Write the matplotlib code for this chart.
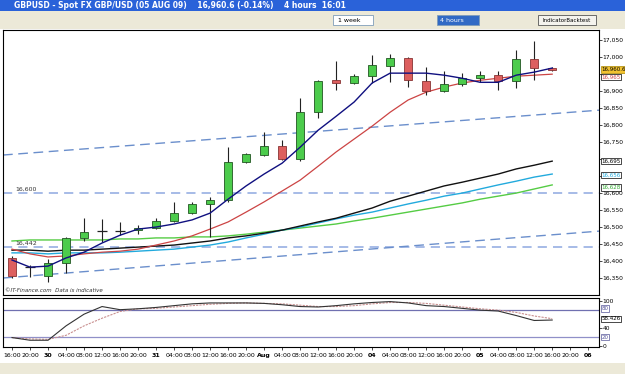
import matplotlib
matplotlib.use('Agg')
import matplotlib.pyplot as plt
from matplotlib.patches import Rectangle

# 4-hour candles, GBP/USD, 29 Jul 16:00 -> 05 Aug 16:00
opens = [16409, 16382, 16356, 16394, 16468, 16486, 16488, 16491, 16497, 16518, 16541,
         16568, 16579, 16691, 16712, 16738, 16700, 16838, 16932, 16924, 16944, 16974,
         16997, 16929, 16900, 16921, 16938, 16947, 16929, 16994, 16968]
highs = [16415, 16388, 16406, 16471, 16526, 16524, 16515, 16506, 16526, 16574, 16574,
         16588, 16735, 16718, 16779, 16756, 16879, 16932, 16988, 16950, 17006, 17009,
         17000, 16971, 16959, 16953, 16959, 16959, 17021, 17047, 16970]
lows = [16350, 16353, 16338, 16365, 16459, 16456, 16476, 16479, 16494, 16515, 16538,
        16471, 16575, 16688, 16709, 16697, 16694, 16821, 16903, 16921, 16924, 16926,
        16912, 16888, 16897, 16915, 16926, 16903, 16909, 16932, 16958]
closes = [16356, 16383, 16394, 16468, 16485, 16488, 16489, 16497, 16518, 16541, 16568,
          16579, 16691, 16715, 16738, 16700, 16838, 16929, 16924, 16944, 16976, 16997,
          16932, 16900, 16921, 16938, 16947, 16929, 16994, 16968, 16961]

ma_navy = [16403, 16382, 16385, 16409, 16426, 16453, 16476, 16494, 16500, 16509, 16521,
           16541, 16582, 16621, 16656, 16688, 16735, 16785, 16826, 16868, 16924, 16953,
           16953, 16953, 16947, 16938, 16926, 16926, 16947, 16956, 16968]
ma_red = [16435, 16421, 16412, 16415, 16421, 16426, 16429, 16435, 16447, 16459, 16474,
          16494, 16515, 16544, 16574, 16606, 16638, 16679, 16721, 16759, 16797, 16838,
          16874, 16897, 16912, 16924, 16932, 16938, 16944, 16947, 16950]
ma_black = [16432, 16432, 16429, 16432, 16432, 16435, 16438, 16441, 16444, 16447, 16453,
            16459, 16468, 16474, 16482, 16491, 16503, 16515, 16526, 16541, 16556, 16576,
            16591, 16606, 16621, 16632, 16644, 16656, 16671, 16682, 16694]
ma_cyan = [16424, 16424, 16421, 16424, 16424, 16424, 16426, 16429, 16432, 16435, 16441,
           16447, 16456, 16468, 16479, 16491, 16500, 16512, 16524, 16535, 16544, 16556,
           16568, 16579, 16591, 16600, 16612, 16624, 16635, 16647, 16656]
ma_green = [16459, 16462, 16462, 16462, 16462, 16462, 16465, 16465, 16468, 16468, 16471,
            16471, 16474, 16479, 16485, 16491, 16497, 16503, 16509, 16518, 16526, 16535,
            16544, 16553, 16562, 16571, 16582, 16591, 16600, 16612, 16624]

stoch_k = [19, 13, 13, 45, 71, 88, 81, 83, 86, 90, 94, 96, 96, 96, 95, 92, 88, 87, 90,
           94, 97, 99, 96, 90, 88, 84, 80, 78, 68, 57, 58]
stoch_d = [19, 16, 15, 24, 45, 62, 77, 83, 84, 87, 90, 93, 95, 96, 95, 94, 91, 88, 88,
           90, 94, 97, 97, 95, 91, 87, 83, 80, 75, 67, 61]

# channel lines (price at left and right edge of the chart)
upper_channel = [16712, 16844]
lower_channel = [16350, 16488]
h_levels = [16600, 16442]

x_labels = ['16:00', '20:00', '30', '04:00', '08:00', '12:00', '16:00', '20:00', '31',
            '04:00', '08:00', '12:00', '16:00', '20:00', 'Aug', '04:00', '08:00', '12:00',
            '16:00', '20:00', '04', '04:00', '08:00', '12:00', '16:00', '20:00', '05',
            '04:00', '08:00', '12:00', '16:00', '20:00', '06']
day_labels = ['30', '31', 'Aug', '04', '05', '06']
# price labels hidden behind the value boxes on the right
hidden_ticks = [16950, 16700, 16650]

NARROW = ['Liberation Sans Narrow', 'DejaVu Sans']

W, H = 625, 374
fig = plt.figure(figsize=(6.25, 3.74), dpi=100)
fig.patch.set_facecolor('white')

def fy(py):
    return 1 - py / H

# window chrome
fig.patches.append(Rectangle((0, fy(11)), 1, 11 / H, transform=fig.transFigure,
                             facecolor='#2a62d9', edgecolor='none'))
fig.text(14 / W, fy(5.5), 'GBPUSD - Spot FX GBP/USD (05 AUG 09)    16,960.6 (-0.14%)    4 hours  16:01',
         color='white', fontsize=5.5, fontweight='bold', va='center')
fig.patches.append(Rectangle((0, fy(29)), 1, 18 / H, transform=fig.transFigure,
                             facecolor='#ece9d8', edgecolor='none'))
fig.patches.append(Rectangle((333 / W, fy(25)), 40 / W, 10 / H, transform=fig.transFigure,
                             facecolor='white', edgecolor='#7f9db9', lw=0.6))
fig.text(338 / W, fy(20), '1 week', fontsize=4.5, va='center')
fig.patches.append(Rectangle((437 / W, fy(25)), 42 / W, 10 / H, transform=fig.transFigure,
                             facecolor='#316ac5', edgecolor='#7f9db9', lw=0.6))
fig.text(440 / W, fy(20), '4 hours', fontsize=4.5, va='center', color='white')
fig.patches.append(Rectangle((538 / W, fy(25)), 58 / W, 10 / H, transform=fig.transFigure,
                             facecolor='#f4f3ee', edgecolor='#555555', lw=0.6))
fig.text(567 / W, fy(20), 'IndicatorBacktest', fontsize=4, va='center', ha='center')
fig.patches.append(Rectangle((0, 0), 1, 11 / H, transform=fig.transFigure,
                             facecolor='#ece9d8', edgecolor='none'))

x = list(range(len(opens)))
xlim = (-0.5, 32.6)

# main price panel
ax = fig.add_axes([3 / W, fy(295), 596 / W, 265 / H])
ax.set_xlim(*xlim)
ax.set_ylim(16300, 17080)

for lvl in h_levels:
    ax.axhline(lvl, color='#8ea8e0', lw=1.1, dashes=(6, 4))
ax.plot(xlim, upper_channel, color='#6b8fcc', lw=1.0, dashes=(7, 4))
ax.plot(xlim, lower_channel, color='#6b8fcc', lw=1.0, dashes=(7, 4))
ax.text(0.2, 16604, '16,600', fontsize=4.5, color='#333333', va='bottom', family=NARROW)
ax.text(0.2, 16446, '16,442', fontsize=4.5, color='#333333', va='bottom', family=NARROW)

ax.plot(x, ma_green, color='#55cc44', lw=1.0)
ax.plot(x, ma_cyan, color='#22aadd', lw=1.0)
ax.plot(x, ma_black, color='#111111', lw=1.0)
ax.plot(x, ma_red, color='#cc4444', lw=0.9)

for i in x:
    o, h, l, c = opens[i], highs[i], lows[i], closes[i]
    ax.vlines(i, l, h, color='#222222', lw=0.8, zorder=3)
    if abs(c - o) < 3:
        ax.hlines((o + c) / 2, i - 0.3, i + 0.3, color='#222222', lw=0.9, zorder=4)
    else:
        col = '#4ccc4c' if c > o else '#dd5f5f'
        ax.bar(i, abs(c - o), bottom=min(o, c), width=0.45, color=col,
               edgecolor='#225522' if c > o else '#883333', lw=0.6, zorder=4)

ax.plot(x, ma_navy, color='#101080', lw=1.0, zorder=5)

ax.yaxis.tick_right()
ticks = list(range(16350, 17051, 50))
ax.set_yticks(ticks)
ax.set_yticklabels(['' if t in hidden_ticks else f'{t:,}' for t in ticks],
                   fontsize=4.3, family=NARROW)
ax.tick_params(axis='y', length=2, width=0.5, pad=0.5)
ax.set_xticks([])
for s in ax.spines.values():
    s.set_linewidth(0.8)

def box(axis, y, txt, fc='white', tc='black', ec='black'):
    axis.text(1.004, y, txt, transform=axis.get_yaxis_transform(), fontsize=4.0,
              va='center', ha='left', color=tc, family=NARROW,
              bbox=dict(boxstyle='square,pad=0.12', fc=fc, ec=ec, lw=0.5))

box(ax, closes[-1] + 3, '16,960.6', fc='#f2c230', ec='#aa8800')
box(ax, 16941, '16,965', tc='#cc4444')
box(ax, ma_black[-1], '16,695')
box(ax, ma_cyan[-1] - 3, '16,656', tc='#22aadd')
box(ax, ma_green[-1] - 8, '16,628', tc='#33aa33')
ax.text(0.004, 0.01, '©IT-Finance.com  Data is indicative', transform=ax.transAxes,
        fontsize=4, style='italic', color='#333333')

# stochastic panel
ax2 = fig.add_axes([3 / W, fy(347), 596 / W, 49 / H])
ax2.set_xlim(*xlim)
ax2.set_ylim(-2, 107)
ax2.axhline(80, color='#7070b0', lw=0.9)
ax2.axhline(20, color='#9090c8', lw=0.9)
ax2.plot(x, stoch_d, color='#c99090', lw=0.8, ls=(0, (2, 1)))
ax2.plot(x, stoch_k, color='#333333', lw=0.8)
ax2.yaxis.tick_right()
ax2.set_yticks([0, 40, 100])
ax2.set_yticklabels(['0', '40', '100'], fontsize=4.3, family=NARROW)
ax2.tick_params(axis='y', length=2, width=0.5, pad=0.5)
box(ax2, 84, '80', tc='#555599', ec='#555599')
box(ax2, 20, '20', tc='#555599', ec='#555599')
box(ax2, 61, '58.426')
ax2.set_xticks(range(len(x_labels)))
ax2.set_xticklabels(x_labels, fontsize=4.5, family=NARROW)
for lab in ax2.get_xticklabels():
    if lab.get_text() in day_labels:
        lab.set_fontweight('bold')
ax2.tick_params(axis='x', length=2, width=0.5, pad=2)
for s in ax2.spines.values():
    s.set_linewidth(0.8)

fig.savefig('out.png', dpi=100)
